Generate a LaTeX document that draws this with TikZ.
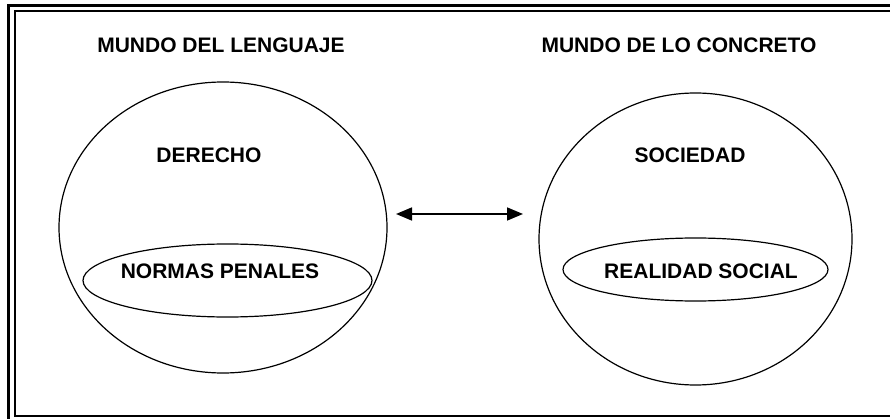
\documentclass[tikz,border=0pt]{standalone}
\usepackage{fontspec}
\setmainfont{Liberation Sans}
\usetikzlibrary{shapes.geometric,arrows.meta}
\tikzset{
  oval/.style={ellipse, draw, line width=1.2pt, inner sep=0pt, outer sep=0pt},
  lbl/.style={anchor=base, inner sep=0pt, font=\fontsize{21}{25}\selectfont\bfseries},
  twoway/.style={line width=1.7pt, {Triangle[length=16pt,width=13pt]}-{Triangle[length=16pt,width=13pt]}},
}
\begin{document}
\begin{tikzpicture}[x=1pt,y=-1pt]
\useasboundingbox (0,0) rectangle (890,419);
\begin{scope}
\clip (0,0) rectangle (890,419);
\draw[line width=3pt] (8.5,5.7) rectangle (905,430);
\draw[line width=2.4pt] (15,11.3) rectangle (895,416);
\end{scope}
% big circles
\node[oval, minimum width=328pt, minimum height=291pt] (lc) at (223,227.5) {};
\node[oval, minimum width=313pt, minimum height=292pt] (rc) at (695.5,239) {};
% inner ellipses
\node[oval, minimum width=289pt, minimum height=73pt] (le) at (227.5,280.5) {};
\node[oval, minimum width=265pt, minimum height=63pt] (re) at (695.5,269.5) {};
% labels
\node[lbl] (tl) at (221,53) {MUNDO DEL LENGUAJE};
\node[lbl] (tr) at (679,53) {MUNDO DE LO CONCRETO};
\node[lbl] (der) at (209,163) {DERECHO};
\node[lbl] (soc) at (690,163) {SOCIEDAD};
\node[lbl] (np) at (220,279) {NORMAS PENALES};
\node[lbl] (rs) at (701,279) {REALIDAD SOCIAL};
% arrow
\coordinate (a1) at (396,214);
\coordinate (a2) at (523,214);
\draw[twoway] (a1) -- (a2);
\end{tikzpicture}
\end{document}
